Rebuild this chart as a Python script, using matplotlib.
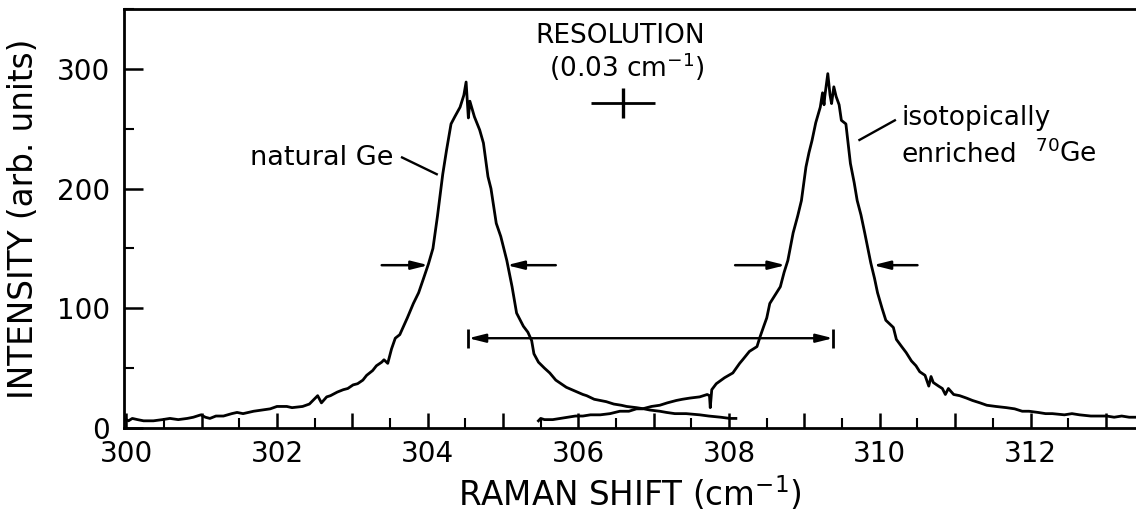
import matplotlib
matplotlib.use("Agg")
import matplotlib.pyplot as plt
from matplotlib.ticker import MultipleLocator, FuncFormatter

# ---------------------------------------------------------------------------
# Data (Raman shift in cm^-1, intensity in arb. units)
# ---------------------------------------------------------------------------

nat_x = [300.00, 300.03, 300.08, 300.15, 300.23, 300.36, 300.48, 300.58, 300.69, 300.81,
         300.89, 300.99, 301.05, 301.11, 301.19, 301.29, 301.40, 301.47, 301.55, 301.69,
         301.80, 301.91, 302.00, 302.13, 302.20, 302.34, 302.43, 302.54, 302.59, 302.66,
         302.71, 302.80, 302.88, 302.94, 303.01, 303.07, 303.14, 303.19, 303.27, 303.32,
         303.39, 303.42, 303.47, 303.52, 303.57, 303.63, 303.68, 303.73, 303.81, 303.88,
         303.94, 304.01, 304.07, 304.13, 304.20, 304.25, 304.31, 304.36, 304.43, 304.48,
         304.51, 304.54, 304.56, 304.62, 304.69, 304.74, 304.80, 304.84, 304.91, 304.97,
         305.05, 305.12, 305.18, 305.27, 305.33, 305.38, 305.41, 305.47, 305.55, 305.62,
         305.70, 305.77, 305.84, 305.95, 306.06, 306.11, 306.21, 306.37, 306.47, 306.57,
         306.64, 306.77, 306.87, 306.95, 307.08, 307.17, 307.28, 307.43, 307.61, 307.73,
         307.89, 308.01, 308.09]
nat_y = [7, 6, 8, 7, 6, 6, 7, 8, 7, 8,
         9, 11, 9, 8, 10, 10, 12, 13, 12, 14,
         15, 16, 18, 18, 17, 18, 20, 27, 21, 26,
         27, 30, 32, 33, 36, 37, 40, 44, 48, 52,
         55, 57, 54, 66, 75, 78, 85, 92, 104, 113,
         124, 137, 150, 177, 212, 232, 254, 260, 268, 278,
         289, 259, 273, 260, 249, 238, 210, 200, 171, 160,
         140, 118, 96, 85, 80, 73, 62, 55, 50, 46,
         40, 37, 34, 31, 28, 27, 24, 22, 20, 19,
         18, 17, 16, 15, 14, 13, 12, 12, 11, 10,
         9, 8, 8]

enr_x = [305.47, 305.50, 305.55, 305.66, 305.76, 305.86, 305.96, 306.06, 306.16, 306.29,
         306.42, 306.55, 306.67, 306.77, 306.85, 306.97, 307.08, 307.18, 307.30, 307.38,
         307.48, 307.61, 307.71, 307.74, 307.75, 307.77, 307.83, 307.94, 308.05, 308.14,
         308.18, 308.27, 308.37, 308.41, 308.46, 308.50, 308.54, 308.60, 308.68, 308.73,
         308.78, 308.85, 308.91, 308.96, 309.02, 309.06, 309.10, 309.15, 309.21, 309.24,
         309.26, 309.27, 309.31, 309.34, 309.36, 309.39, 309.42, 309.46, 309.49, 309.55,
         309.61, 309.66, 309.70, 309.75, 309.80, 309.88, 309.93, 309.97, 310.03, 310.08,
         310.18, 310.22, 310.29, 310.35, 310.42, 310.48, 310.53, 310.60, 310.65, 310.68,
         310.71, 310.78, 310.83, 310.87, 310.91, 310.98, 311.06, 311.15, 311.23, 311.33,
         311.42, 311.54, 311.68, 311.79, 311.89, 311.98, 312.10, 312.20, 312.29, 312.45,
         312.55, 312.65, 312.80, 312.90, 313.01, 313.11, 313.21, 313.31, 313.40]
enr_y = [6, 8, 7, 7, 8, 9, 10, 10, 11, 11,
         12, 14, 14, 16, 16, 18, 19, 21, 23, 24,
         25, 26, 28, 27, 17, 32, 37, 42, 46, 54,
         57, 64, 68, 76, 85, 92, 104, 110, 118, 130,
         140, 163, 177, 190, 218, 230, 240, 255, 268, 280,
         270, 277, 296, 278, 271, 285, 277, 270, 257, 254,
         221, 205, 190, 178, 163, 138, 125, 113, 100, 90,
         84, 74, 68, 63, 56, 52, 47, 44, 35, 43,
         38, 35, 33, 28, 33, 28, 27, 25, 23, 21,
         19, 18, 17, 16, 14, 14, 13, 12, 12, 11,
         12, 11, 10, 10, 10, 9, 10, 9, 9]

# half-maximum markers (tail, tip) and the common height
fwhm_arrows = [(303.39, 304.01), (305.70, 305.05), (308.08, 308.75), (310.50, 309.91)]
fwhm_level = 136

# peak-to-peak separation bar
shift_ends = (304.54, 309.38)
shift_level = 75

# resolution cross
res_span = (306.17, 307.02)
res_center = (306.59, 271.5)
res_height = (259, 284)

# ---------------------------------------------------------------------------
# Figure
# ---------------------------------------------------------------------------

plt.rcParams["font.family"] = "DejaVu Sans"
plt.rcParams["mathtext.fontset"] = "dejavusans"

fig = plt.figure(figsize=(11.36, 5.14), dpi=100)
ax = fig.add_axes([124 / 1136, 86 / 514, 1 - 124 / 1136, 419 / 514])

ax.plot(nat_x, nat_y, color="black", lw=2.0)
ax.plot(enr_x, enr_y, color="black", lw=2.0)

arrow_kw = dict(arrowstyle="-|>,head_length=1.0,head_width=0.25", lw=1.8,
                color="black", shrinkA=0, shrinkB=0)
for tail, tip in fwhm_arrows:
    ax.annotate("", xy=(tip, fwhm_level), xytext=(tail, fwhm_level), arrowprops=arrow_kw)

ax.annotate("", xy=(shift_ends[0], shift_level), xytext=(shift_ends[1], shift_level),
            arrowprops=dict(arrowstyle="<|-|>,head_length=1.0,head_width=0.25", lw=1.7,
                            color="black", shrinkA=0, shrinkB=0))
ax.vlines(shift_ends, shift_level - 8, shift_level + 8, color="black", lw=2.0)

ax.hlines(res_center[1], *res_span, color="black", lw=2.0)
ax.vlines(res_center[0], *res_height, color="black", lw=2.4)

# labels and leaders
ax.text(306.55, 322, "RESOLUTION", fontsize=19, ha="center", va="baseline")
ax.text(306.64, 293, "(0.03 cm$^{-1}$)", fontsize=19, ha="center", va="baseline")
ax.text(303.54, 220, "natural Ge", fontsize=19.5, ha="right", va="baseline")
ax.plot([303.66, 304.12], [226, 212], color="black", lw=1.7)
ax.text(310.29, 253, "isotopically", fontsize=19, ha="left", va="baseline")
ax.text(310.29, 222.5, "enriched", fontsize=19, ha="left", va="baseline")
ax.text(312.06, 222.5, "$^{70}$Ge", fontsize=19, ha="left", va="baseline")
ax.plot([310.20, 309.73], [257, 240.6], color="black", lw=1.7)

# axes
ax.set_xlim(299.97, 313.40)
ax.set_ylim(0, 350)
ax.spines["right"].set_visible(False)
for side in ("left", "top", "bottom"):
    ax.spines[side].set_linewidth(2.0)

ax.xaxis.set_major_locator(MultipleLocator(1))
ax.xaxis.set_minor_locator(MultipleLocator(0.5))
ax.xaxis.set_major_formatter(FuncFormatter(lambda v, p: f"{v:.0f}" if round(v) % 2 == 0 else ""))
ax.yaxis.set_major_locator(MultipleLocator(100))
ax.yaxis.set_minor_locator(MultipleLocator(50))

ax.tick_params(axis="x", which="major", direction="in", length=11, width=1.8,
               labelsize=20, pad=9, top=False)
ax.tick_params(axis="x", which="minor", direction="in", length=7, width=1.5, top=False)
ax.tick_params(axis="y", which="major", direction="in", length=14, width=1.8,
               labelsize=20, pad=10, right=False)
ax.tick_params(axis="y", which="minor", direction="in", length=7, width=1.5, right=False)

ax.set_ylabel("INTENSITY (arb. units)", fontsize=23.5)
ax.yaxis.set_label_coords(-0.083, 0.5)
ax.set_xlabel("RAMAN SHIFT (cm$^{-1}$)", fontsize=23.5)
ax.xaxis.set_label_coords(0.5, -0.11)

fig.savefig("out.png", dpi=100)
